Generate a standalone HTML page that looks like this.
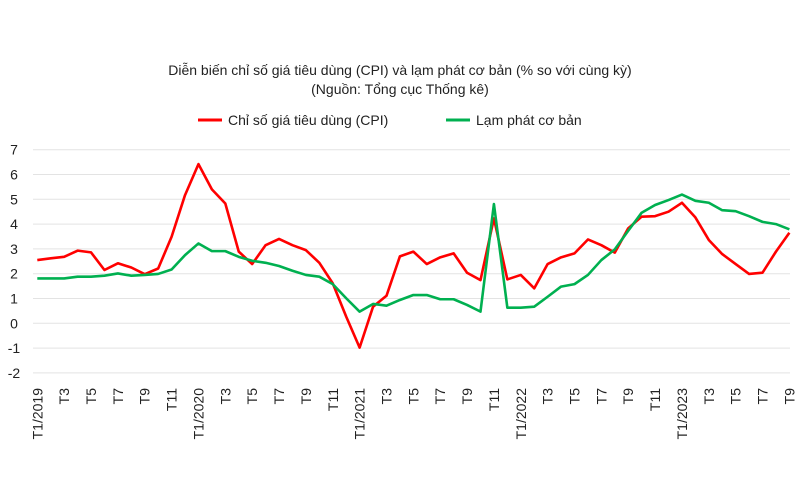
<!DOCTYPE html>
<html><head><meta charset="utf-8"><style>
body{margin:0;background:#fff;}
svg{display:block;font-family:"Liberation Sans",sans-serif;}
</style></head><body>
<svg id="chart" width="800" height="500">
<text x="400" y="75" text-anchor="middle" font-size="14" fill="#222">Diễn biến chỉ số giá tiêu dùng (CPI) và lạm phát cơ bản (% so với cùng kỳ)</text>
<text x="400" y="94" text-anchor="middle" font-size="14" fill="#222">(Nguồn: Tổng cục Thống kê)</text>
<g>
<line x1="198" y1="120" x2="222" y2="120" stroke="#ff0000" stroke-width="3"/>
<text x="228" y="125" font-size="14" fill="#222">Chỉ số giá tiêu dùng (CPI)</text>
<line x1="446" y1="120" x2="470" y2="120" stroke="#00b050" stroke-width="3"/>
<text x="476" y="125" font-size="14" fill="#222">Lạm phát cơ bản</text>
</g>
<g id="grid"></g><g id="ylab"></g><g id="xlab"></g><g id="series"></g>
</svg>
<script>
const yTicks=[7,6,5,4,3,2,1,0,-1,-2];
const xTickLabels=["T1/2019","T3","T5","T7","T9","T11","T1/2020","T3","T5","T7","T9","T11","T1/2021","T3","T5","T7","T9","T11","T1/2022","T3","T5","T7","T9","T11","T1/2023","T3","T5","T7","T9"];
const cpi=[2.55,2.62,2.68,2.93,2.86,2.15,2.42,2.25,1.98,2.21,3.49,5.17,6.42,5.4,4.83,2.89,2.39,3.15,3.4,3.15,2.95,2.44,1.61,0.27,-0.98,0.67,1.11,2.7,2.89,2.39,2.66,2.82,2.04,1.74,4.23,1.77,1.95,1.41,2.39,2.66,2.82,3.38,3.15,2.85,3.83,4.3,4.32,4.5,4.86,4.27,3.36,2.79,2.39,1.99,2.04,2.89,3.65];
const core=[1.81,1.81,1.81,1.88,1.88,1.92,2.01,1.92,1.95,1.99,2.17,2.75,3.22,2.91,2.91,2.68,2.52,2.44,2.31,2.12,1.95,1.88,1.58,1.01,0.47,0.78,0.71,0.94,1.14,1.14,0.97,0.97,0.74,0.47,4.81,0.63,0.63,0.67,1.07,1.48,1.58,1.95,2.55,2.98,3.73,4.46,4.77,4.97,5.19,4.94,4.86,4.56,4.52,4.32,4.09,4.0,3.79];
const NS="http://www.w3.org/2000/svg";
const x0=37.3,dx=13.43,yZero=323.3,yUnit=24.8;
const X=i=>x0+i*dx, Y=v=>yZero-v*yUnit;
function mk(t,a,p){const e=document.createElementNS(NS,t);for(const k in a)e.setAttribute(k,a[k]);document.getElementById(p).appendChild(e);return e;}
yTicks.forEach(v=>{
 const l=mk("line",{x1:33,x2:790,y1:Y(v),y2:Y(v),stroke:"#e3e3e3","stroke-width":1},"grid");
 
 
 const t=mk("text",{x:14,y:Y(v)+5,"text-anchor":"middle","font-size":14,fill:"#222"},"ylab");
 t.textContent=v;
 
 
});
xTickLabels.forEach((s,k)=>{
 const x=X(k*2);
 const t=mk("text",{x:0,y:0,transform:`translate(${x+5},388) rotate(-90)`,"text-anchor":"end","font-size":14,fill:"#222"},"xlab");
 t.textContent=s;
 
 
});
function line(d,c,n){
 const p=mk("polyline",{points:d.map((v,i)=>X(i)+","+Y(v)).join(" "),fill:"none",stroke:c,"stroke-width":2.6,"stroke-linejoin":"round"},"series");
 
 
}
line(cpi,"#ff0000","cpi-line");
line(core,"#00b050","core-inflation-line");
</script>
</body></html>
